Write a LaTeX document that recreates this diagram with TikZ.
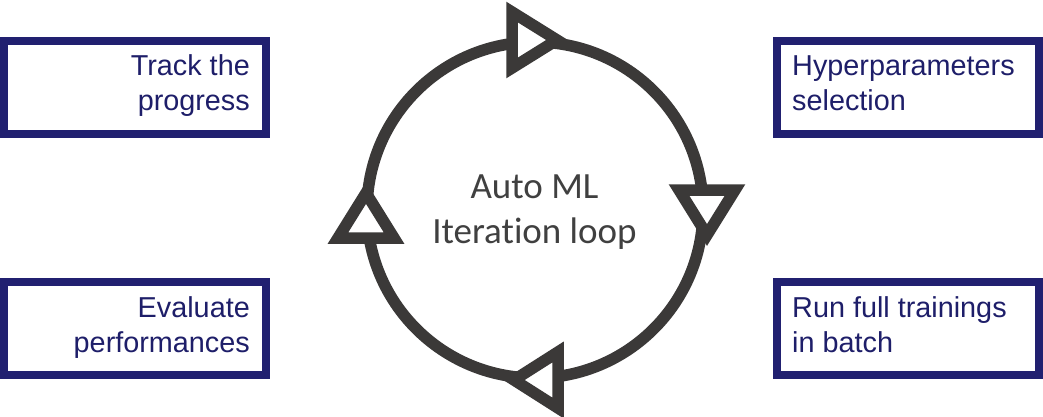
\documentclass[tikz,border=0pt]{standalone}
\usepackage{fontspec}
\setmainfont{Liberation Sans}
\newfontfamily\calib[Ligatures=NoCommon]{Carlito}
\definecolor{navy}{RGB}{33,32,112}
\definecolor{navytext}{RGB}{30,30,105}
\definecolor{ringgray}{RGB}{59,57,56}
\definecolor{centergray}{RGB}{64,64,64}
\tikzset{
  stepbox/.style={draw=navy, line width=8pt, fill=white, minimum width=262pt, minimum height=93pt, inner sep=0pt},
  boxtext/.style={text=navytext, font=\fontsize{28.8}{35}\selectfont, inner sep=0pt},
  ring/.style={draw=ringgray, line width=11.5pt},
  arrowtri/.style={draw=ringgray, line width=11.5pt, fill=white, line join=miter, miter limit=10},
}
\begin{document}
\begin{tikzpicture}[x=1pt,y=-1pt]
\useasboundingbox (0,0) rectangle (1043,416);
% boxes
\node[stepbox] (track) at (135,87.5) {};
\node[stepbox] (hyper) at (908,87.5) {};
\node[stepbox] (eval) at (135,328) {};
\node[stepbox] (run) at (908,328) {};
\node[boxtext, anchor=base east, align=right] (tracktxt) at (250,110) {Track the\\progress};
\node[boxtext, anchor=base west, align=left] (hypertxt) at (792,110) {Hyperparameters\\selection};
\node[boxtext, anchor=base east, align=right] (evaltxt) at (250,352) {Evaluate\\performances};
\node[boxtext, anchor=base west, align=left] (runtxt) at (792,352) {Run full trainings\\in batch};
% loop
\node[ring, circle, minimum size=336pt, inner sep=0pt] (loop) at (535,210) {};
\draw[arrowtri] (512,12) -- (512,68) -- (557,40) -- cycle;
\draw[arrowtri] (679,190) -- (735,190) -- (707,235) -- cycle;
\draw[arrowtri] (558,352) -- (558,408) -- (514,380) -- cycle;
\draw[arrowtri] (338,238) -- (394,238) -- (366,193) -- cycle;
\node[text=centergray, font=\calib\fontsize{37}{45}\selectfont, align=center, inner sep=0pt, anchor=base] (label) at (534.5,243) {Auto ML\\Iteration loop};
\end{tikzpicture}
\end{document}
